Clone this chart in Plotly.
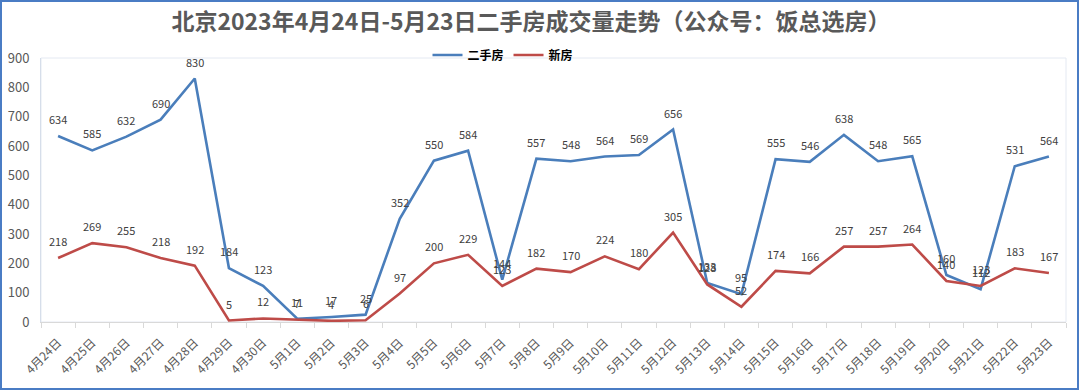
import plotly.graph_objects as go

dates = ["4月24日", "4月25日", "4月26日", "4月27日", "4月28日", "4月29日", "4月30日",
         "5月1日", "5月2日", "5月3日", "5月4日", "5月5日", "5月6日", "5月7日", "5月8日",
         "5月9日", "5月10日", "5月11日", "5月12日", "5月13日", "5月14日", "5月15日",
         "5月16日", "5月17日", "5月18日", "5月19日", "5月20日", "5月21日", "5月22日", "5月23日"]
second_hand = [634, 585, 632, 690, 830, 184, 123, 11, 17, 25, 352, 550, 584, 144, 557,
               548, 564, 569, 656, 133, 95, 555, 546, 638, 548, 565, 160, 112, 531, 564]
new_home = [218, 269, 255, 218, 192, 5, 12, 7, 4, 6, 97, 200, 229, 123, 182,
            170, 224, 180, 305, 128, 52, 174, 166, 257, 257, 264, 140, 123, 183, 167]
y_ticks = [0, 100, 200, 300, 400, 500, 600, 700, 800, 900]

BLUE = "#4A7EBB"
RED = "#BE4B48"
FONT = "Noto Sans CJK SC"

W, H = 1080, 391
ML, MR, MT, MB = 41, 14, 58, 69
pw, ph = W - ML - MR, H - MT - MB

fig = go.Figure()
fig.add_trace(go.Scatter(x=dates, y=second_hand, mode="lines", name="二手房",
                         line=dict(color=BLUE, width=2.6)))
fig.add_trace(go.Scatter(x=dates, y=new_home, mode="lines", name="新房",
                         line=dict(color=RED, width=2.6)))

annots = []
for series in (second_hand, new_home):
    for d, v in zip(dates, series):
        annots.append(dict(x=d, y=v, xref="x", yref="y", text=str(v), showarrow=False,
                           yshift=17, font=dict(family=FONT, size=11, color="#404040")))

shapes = [
    # plot area light border
    dict(type="rect", xref="paper", yref="paper", x0=0, x1=1, y0=0, y1=1,
         line=dict(color="#E4E9F2", width=1), layer="below"),
    # outer frame around the whole picture
    dict(type="rect", xref="paper", yref="paper",
         x0=(1 - ML) / pw, x1=(W - 2 - ML) / pw,
         y0=-(MB - 2) / ph, y1=1 + (MT - 1) / ph,
         line=dict(color="#4A7CC4", width=2)),
]

fig.update_layout(
    width=W, height=H,
    margin=dict(l=ML, r=MR, t=MT, b=MB, autoexpand=False),
    paper_bgcolor="white", plot_bgcolor="white",
    font=dict(family=FONT, color="#595959"),
    title=dict(text="<b>北京2023年4月24日-5月23日二手房成交量走势（公众号：饭总选房）</b>",
               x=531 / W, xanchor="center", xref="container",
               y=1 - 22 / H, yanchor="middle", yref="container",
               font=dict(family=FONT, size=23, color="#595959")),
    legend=dict(orientation="h", x=(503 - ML) / pw, xanchor="center",
                y=1 + 3 / ph, yanchor="middle",
                font=dict(family=FONT, size=12, color="#000000", weight="bold"),
                bgcolor="rgba(0,0,0,0)", itemwidth=30, traceorder="normal"),
    xaxis=dict(type="category", range=[-0.5, len(dates) - 0.5], tickangle=-45,
               tickfont=dict(family=FONT, size=12, color="#595959"),
               showline=True, linecolor="#D9D9D9", linewidth=1,
               ticks="outside", tickson="boundaries", ticklen=5, tickcolor="#D9D9D9",
               ticklabelstandoff=8,
               showgrid=False, zeroline=False, automargin=False),
    yaxis=dict(range=[0, 900], tickvals=y_ticks,
               tickfont=dict(family=FONT, size=13, color="#595959"),
               showline=True, linecolor="#D6DEEA", linewidth=1,
               showgrid=False, zeroline=False, ticks="", ticklabelstandoff=8,
               automargin=False),
    annotations=annots,
    shapes=shapes,
)

fig.write_html("out.html", config={"displayModeBar": False},
               post_script="document.body.style.margin='0';document.body.style.overflow='hidden';")
